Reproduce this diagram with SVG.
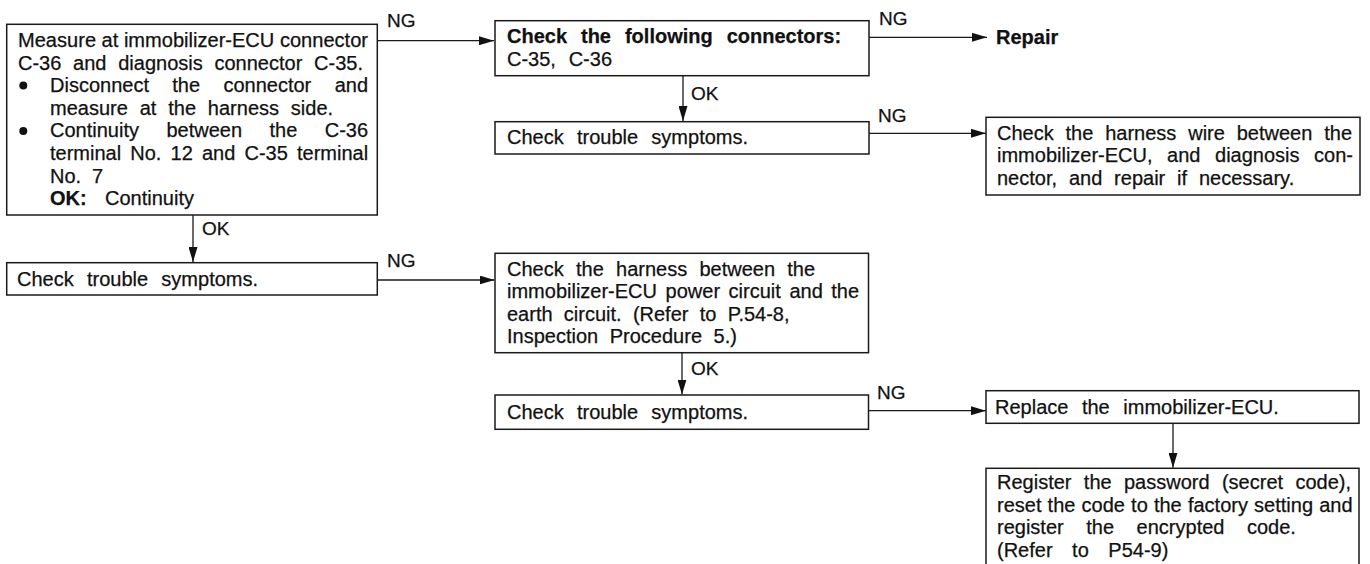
<svg xmlns="http://www.w3.org/2000/svg" width="1370" height="564" viewBox="0 0 1370 564">
<defs>
<style>
.box{fill:#fff;stroke:#1a1a1a;stroke-width:1.5}
.t{font-family:"Liberation Sans",Arial,sans-serif;font-size:20px;fill:#111;stroke:#111;stroke-width:0.25}
.b{font-weight:bold}
.lbl{font-family:"Liberation Sans",Arial,sans-serif;font-size:19px;fill:#111;stroke:#111;stroke-width:0.25}
.ln{stroke:#1a1a1a;stroke-width:1.3;fill:none}
</style>
<marker id="ah" viewBox="0 0 15 9" refX="15" refY="4.5" markerWidth="15" markerHeight="9" markerUnits="userSpaceOnUse" orient="auto">
<path d="M0,0 L15,4.5 L0,9 Z" fill="#111"/>
</marker>
</defs>
<rect width="1370" height="564" fill="#fff"/>

<g id="connectors">
<line class="ln" x1="377.3" y1="40.7" x2="494" y2="40.7" marker-end="url(#ah)"/>
<line class="ln" x1="869" y1="37.3" x2="987" y2="37.3" marker-end="url(#ah)"/>
<line class="ln" x1="869" y1="133.3" x2="986" y2="133.3" marker-end="url(#ah)"/>
<line class="ln" x1="377.3" y1="280" x2="494.5" y2="280" marker-end="url(#ah)"/>
<line class="ln" x1="868.5" y1="410.7" x2="986" y2="410.7" marker-end="url(#ah)"/>
<line class="ln" x1="193" y1="215" x2="193" y2="262" marker-end="url(#ah)"/>
<line class="ln" x1="683" y1="75.7" x2="683" y2="121" marker-end="url(#ah)"/>
<line class="ln" x1="682" y1="352.7" x2="682" y2="394.5" marker-end="url(#ah)"/>
<line class="ln" x1="1173" y1="423.3" x2="1173" y2="467.8" marker-end="url(#ah)"/>
<text class="lbl" x="387" y="27">NG</text>
<text class="lbl" x="879" y="25">NG</text>
<text class="lbl" x="878" y="122">NG</text>
<text class="lbl" x="387" y="267">NG</text>
<text class="lbl" x="877" y="399">NG</text>
<text class="lbl" x="202" y="235">OK</text>
<text class="lbl" x="691" y="100">OK</text>
<text class="lbl" x="691" y="375">OK</text>
</g>

<g id="measure">
<rect class="box" x="6.7" y="24.3" width="370.6" height="190.7"/>
<text class="t" x="18" y="47" textLength="350" lengthAdjust="spacingAndGlyphs">Measure at immobilizer-ECU connector</text>
<text class="t" x="18" y="69.6" word-spacing="6.2">C-36 and diagnosis connector C-35.</text>
<circle cx="23.3" cy="85.5" r="4" fill="#111"/>
<text class="t" x="50" y="92.2" word-spacing="17.8">Disconnect the connector and</text>
<text class="t" x="50" y="114.8" word-spacing="6.3">measure at the harness side.</text>
<circle cx="23.3" cy="131" r="4" fill="#111"/>
<text class="t" x="50" y="137.4" word-spacing="21.9">Continuity between the C-36</text>
<text class="t" x="50" y="160" word-spacing="3.6">terminal No. 12 and C-35 terminal</text>
<text class="t" x="50" y="182.6" word-spacing="5.2">No. 7</text>
<text class="t b" x="50" y="205.2">OK:</text>
<text class="t" x="105" y="205.2">Continuity</text>
</g>

<g id="check1">
<rect class="box" x="6.7" y="262.7" width="370.6" height="32.3"/>
<text class="t" x="17" y="285.5" word-spacing="7.7">Check trouble symptoms.</text>
</g>

<g id="connectors-check">
<rect class="box" x="495" y="20.7" width="374" height="55"/>
<text class="t b" x="507" y="43.3" word-spacing="8.4">Check the following connectors:</text>
<text class="t" x="507" y="65.5" word-spacing="7.2">C-35, C-36</text>
</g>

<g id="repair">
<text class="t b" x="996" y="44">Repair</text>
</g>

<g id="check2">
<rect class="box" x="495" y="121.7" width="374" height="32.3"/>
<text class="t" x="507" y="144" word-spacing="7.7">Check trouble symptoms.</text>
</g>

<g id="harness-wire">
<rect class="box" x="986" y="117.3" width="374" height="77.7"/>
<text class="t" x="997" y="139.5" word-spacing="6.3">Check the harness wire between the</text>
<text class="t" x="997" y="162" word-spacing="9">immobilizer-ECU, and diagnosis con-</text>
<text class="t" x="997" y="184.5" word-spacing="6.3">nector, and repair if necessary.</text>
</g>

<g id="harness-power">
<rect class="box" x="495" y="253.3" width="373.5" height="99.4"/>
<text class="t" x="507" y="275.5" word-spacing="6.7">Check the harness between the</text>
<text class="t" x="507" y="298" word-spacing="3">immobilizer-ECU power circuit and the</text>
<text class="t" x="507" y="320.5" word-spacing="5.7">earth circuit. (Refer to P.54-8,</text>
<text class="t" x="507" y="343" word-spacing="6">Inspection Procedure 5.)</text>
</g>

<g id="check3">
<rect class="box" x="495" y="395" width="373.5" height="34.3"/>
<text class="t" x="507" y="419" word-spacing="7.7">Check trouble symptoms.</text>
</g>

<g id="replace">
<rect class="box" x="986" y="390.7" width="373" height="32.6"/>
<text class="t" x="995" y="413.5" word-spacing="8">Replace the immobilizer-ECU.</text>
</g>

<g id="register">
<rect class="box" x="986" y="468.3" width="373" height="110"/>
<text class="t" x="997" y="489" word-spacing="6.8">Register the password (secret code),</text>
<text class="t" x="997" y="511.5" word-spacing="0.6">reset the code to the factory setting and</text>
<text class="t" x="997" y="534" word-spacing="17">register the encrypted code.</text>
<text class="t" x="997" y="556.5" word-spacing="14">(Refer to P54-9)</text>
</g>
</svg>
